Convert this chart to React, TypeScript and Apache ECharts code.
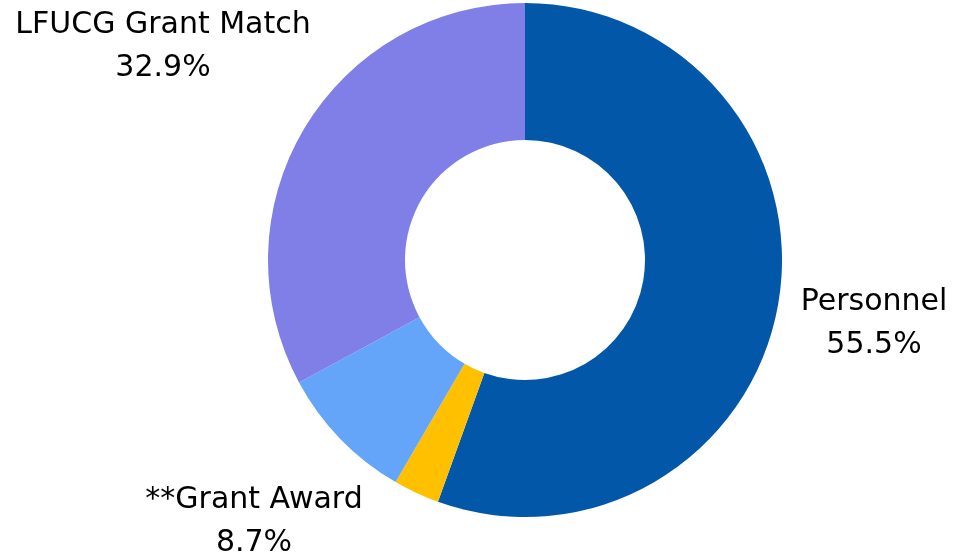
import React, { useEffect, useRef } from "react";
import * as echarts from "echarts";

const categories = ["Personnel", "Other", "**Grant Award", "LFUCG Grant Match"];
const values = [55.5, 2.9, 8.7, 32.9];
const colors = ["#0357A8", "#FFC000", "#64A5F9", "#7F7FE7"];
const showLabel = [true, false, true, true];

export default function App() {
  const ref = useRef<HTMLDivElement>(null);
  useEffect(() => {
    if (!ref.current) return;
    const chart = echarts.init(ref.current, null, { renderer: "svg" });
    const labelPos: Record<number, [number, number]> = {
      0: [874, 321],
      2: [254, 519],
      3: [163, 44],
    };
    chart.setOption({
      animation: false,
      series: [
        {
          type: "pie",
          center: [525, 260],
          radius: [120, 257],
          startAngle: 90,
          clockwise: true,
          avoidLabelOverlap: false,
          labelLine: { show: false },
          label: {
            show: true,
            position: "outside",
            formatter: (p: any) => `${p.name}\n${p.value.toFixed(1)}%`,
            fontFamily: "DejaVu Sans",
            fontSize: 30,
            lineHeight: 43,
            color: "#000",
            align: "center",
          },
          labelLayout: (params: any) => {
            const pos = labelPos[params.dataIndex];
            if (!pos) return {};
            return { x: pos[0], y: pos[1], align: "center", verticalAlign: "middle" };
          },
          data: categories.map((name, i) => ({
            name,
            value: values[i],
            itemStyle: { color: colors[i] },
            label: { show: showLabel[i] },
          })),
        },
      ],
    });
    return () => chart.dispose();
  }, []);
  return (
    <div
      ref={ref}
      style={{ position: "fixed", left: 0, top: 0, width: 956, height: 556 }}
    />
  );
}
